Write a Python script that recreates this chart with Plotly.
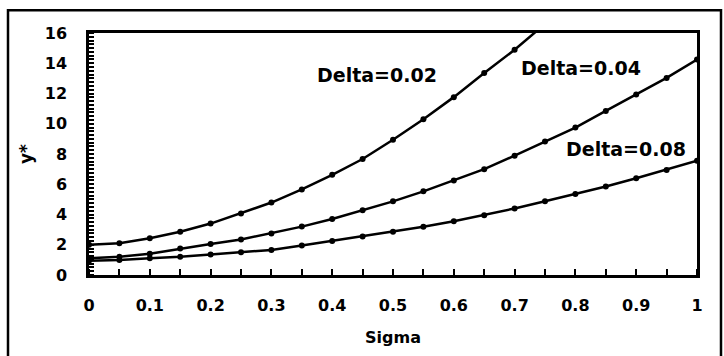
import plotly.graph_objects as go

sigma = [0.0, 0.05, 0.1, 0.15, 0.2, 0.25, 0.3, 0.35, 0.4, 0.45, 0.5,
         0.55, 0.6, 0.65, 0.7, 0.75, 0.8, 0.85, 0.9, 0.95, 1.0]

delta_002 = [2.0, 2.1, 2.43, 2.86, 3.4, 4.07, 4.79, 5.66, 6.62, 7.67, 8.94,
             10.3, 11.76, 13.36, 14.89, 16.6]
delta_004 = [1.1, 1.2, 1.4, 1.75, 2.05, 2.35, 2.75, 3.2, 3.7, 4.28, 4.87,
             5.53, 6.25, 7.0, 7.89, 8.83, 9.75, 10.85, 11.93, 13.03, 14.25]
delta_008 = [0.95, 1.0, 1.1, 1.2, 1.35, 1.5, 1.66, 1.95, 2.25, 2.54, 2.86,
             3.19, 3.55, 3.95, 4.4, 4.87, 5.35, 5.85, 6.4, 6.95, 7.55]

series = [("Delta=0.02", delta_002), ("Delta=0.04", delta_004), ("Delta=0.08", delta_008)]
labels = [("Delta=0.02", 0.474, 13.25), ("Delta=0.04", 0.81, 13.7), ("Delta=0.08", 0.883, 8.33)]

x_ticks = [0, 0.1, 0.2, 0.3, 0.4, 0.5, 0.6, 0.7, 0.8, 0.9, 1]
x_ticktext = ["0", "0.1", "0.2", "0.3", "0.4", "0.5", "0.6", "0.7", "0.8", "0.9", "1"]
y_ticks = [0, 2, 4, 6, 8, 10, 12, 14, 16]

FONT = "DejaVu Sans"

fig = go.Figure()
for name, vals in series:
    fig.add_trace(go.Scatter(
        x=sigma[:len(vals)], y=vals, mode="lines+markers", name=name,
        line=dict(color="black", width=2.5),
        marker=dict(color="black", size=6),
        showlegend=False,
    ))

for text, lx, ly in labels:
    fig.add_annotation(x=lx, y=ly, text=text, showarrow=False,
                       font=dict(family=FONT, size=19, color="black", weight="bold"))

# outer frame around whole chart
pl, pr, pt, pb = 89, 697, 33, 277
pw, ph = pr - pl, pb - pt
def px_to_paper_x(px):
    return (px - pl) / pw
def px_to_paper_y(py):
    return (pb - py) / ph
fig.add_shape(type="rect", xref="paper", yref="paper",
              x0=px_to_paper_x(8), x1=px_to_paper_x(721),
              y0=px_to_paper_y(360), y1=px_to_paper_y(10),
              line=dict(color="black", width=2.5), layer="below")

fig.update_layout(
    width=724, height=356,
    margin=dict(l=pl, r=724 - pr, t=pt, b=356 - pb),
    paper_bgcolor="white", plot_bgcolor="white",
    font=dict(family=FONT, color="black"),
)
fig.update_xaxes(
    range=[0, 1], tickvals=x_ticks, ticktext=x_ticktext,
    ticks="", showgrid=False, zeroline=False,
    showline=True, linecolor="black", linewidth=2.5, mirror=True,
    tickfont=dict(family=FONT, size=16, color="black", weight="bold"),
    ticklabelstandoff=14,
    minor=dict(dtick=0.05, ticks="inside", ticklen=6, tickwidth=2, tickcolor="black", showgrid=False),
    title=dict(text="Sigma", font=dict(family=FONT, size=16, color="black", weight="bold"), standoff=18),
)
fig.update_yaxes(
    range=[0, 16], tickvals=y_ticks,
    ticks="", showgrid=False, zeroline=False,
    showline=True, linecolor="black", linewidth=2.5, mirror=True,
    tickfont=dict(family=FONT, size=16, color="black", weight="bold"),
    ticklabelstandoff=16,
    minor=dict(dtick=0.25, ticks="inside", ticklen=5, tickwidth=1.5, tickcolor="black", showgrid=False),
    title=dict(text="y*", font=dict(family=FONT, size=17, color="black", weight="bold"), standoff=8),
)

fig.write_html("out.html")
